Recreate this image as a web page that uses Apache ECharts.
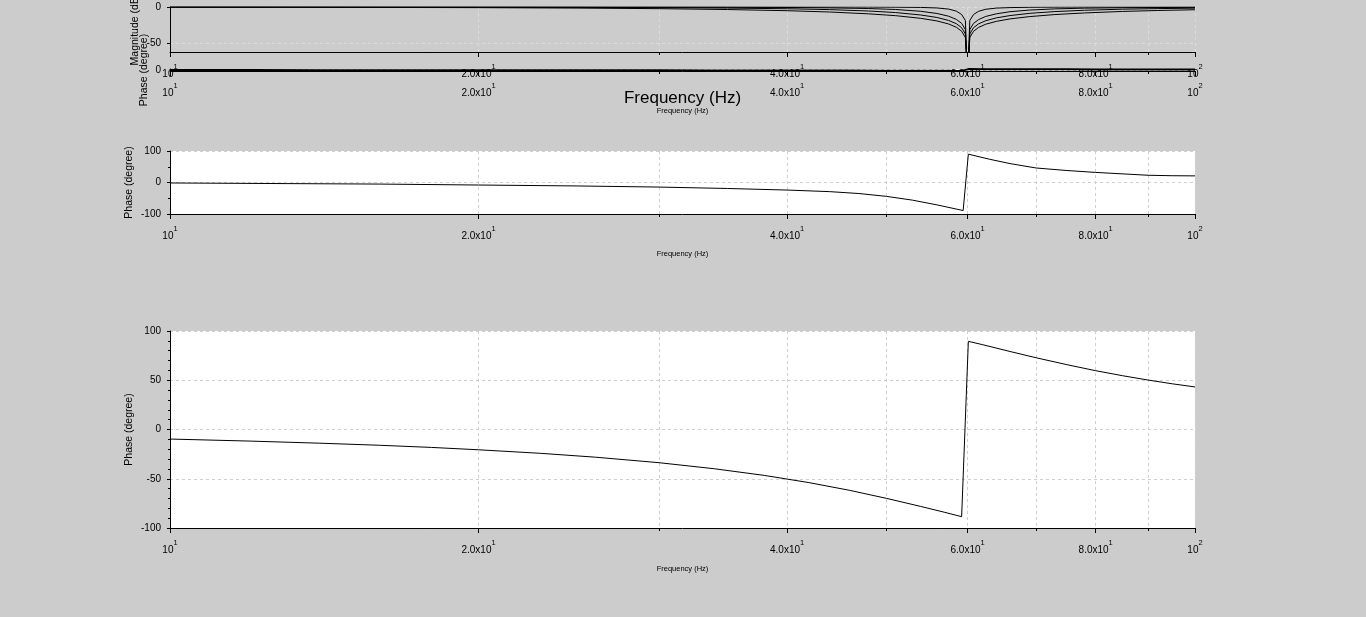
<!DOCTYPE html>
<html>
<head>
<meta charset="utf-8">
<script src="https://cdn.jsdelivr.net/npm/echarts@6/dist/echarts.min.js"></script>
<style>
html,body{margin:0;padding:0;background:#cccccc;}
#chart{width:1366px;height:617px;}
</style>
</head>
<body>
<div id="chart"></div>
<script>
// ---------- DATA ----------
// x tick labels (log frequency axis)
const xTickValues = [10, 20, 40, 60, 80, 100];
const xTickMantissa = ['10', '2.0x10', '4.0x10', '6.0x10', '8.0x10', '10'];
const xTickExponent = ['1', '1', '1', '1', '1', '2'];
const xMinorTicks = [30, 50, 70, 90];

// Magnitude (dB) curves
const freqMag = [10, 15, 20, 25, 30, 35, 40, 44, 48, 51, 54, 56, 57.5, 58.5, 59.2, 59.7, 60, 60.3, 60.8, 61.5, 62.5, 64, 66, 69, 73, 78, 85, 92, 100];
const magA = [-0.2, -0.5, -0.9, -1.5, -2.3, -3.5, -5.1, -6.9, -9.4, -11.9, -15.6, -19.2, -23.4, -27.9, -33.4, -41.9, -100, -42.0, -33.5, -28.1, -23.7, -19.8, -16.4, -13.2, -10.4, -8.2, -6.1, -4.8, -3.8];
const magB = [-0.1, -0.2, -0.3, -0.5, -0.9, -1.5, -2.4, -3.6, -5.5, -7.6, -11.0, -14.4, -18.5, -23.0, -28.5, -37.1, -100, -37.1, -28.6, -23.2, -18.9, -15.0, -11.8, -8.7, -6.3, -4.5, -3.0, -2.2, -1.6];
const magC = [0.0, 0.0, -0.1, -0.1, -0.2, -0.4, -0.7, -1.2, -2.1, -3.4, -5.9, -8.9, -12.7, -17.1, -22.5, -31.0, -100, -31.1, -22.6, -17.3, -13.0, -9.4, -6.5, -4.2, -2.6, -1.6, -1.0, -0.7, -0.5];
const magD = [0.0, 0.0, 0.0, 0.0, 0.0, 0.0, 0.0, -0.1, -0.1, -0.3, -0.6, -1.3, -2.9, -5.7, -10.3, -18.5, -100, -18.5, -10.4, -5.9, -3.1, -1.5, -0.8, -0.4, -0.2, -0.1, -0.1, 0.0, 0.0];

// Phase (degree), middle panel
const freqPhaseMid = [10, 13, 16, 20, 25, 30, 35, 40, 44, 47, 50, 53, 56, 59.4, 60.1, 63, 66, 70, 75, 80, 90, 95, 100];
const phaseMid = [-1.5, -3.5, -5, -8, -11, -14.5, -19, -24, -29, -35, -44, -56, -71, -89, 90, 74, 60, 46, 38, 32, 23, 21.5, 21];

// Phase (degree), bottom panel (also drawn squashed in the second panel)
const freqPhaseLow = [10, 12, 14, 16, 18, 20, 23, 26, 30, 34, 38, 42, 46, 50, 54, 57, 59.2, 60.1, 62, 66, 70, 75, 80, 85, 90, 95, 100];
const phaseLow = [-9.7, -11.8, -13.9, -16.0, -18.2, -20.6, -24.2, -28.1, -33.7, -39.9, -46.6, -53.9, -61.7, -69.9, -78.1, -84.1, -88.5, 89.5, 86.2, 79.2, 72.8, 65.8, 59.7, 54.6, 50.2, 46.4, 43.2];

// ---------- CHART ----------
function pairs(xs, ys) { return xs.map((x, i) => [x, ys[i]]); }
const FONT = '"Liberation Sans", Arial, Helvetica, sans-serif';

function xLabelFormatter(v) {
  let idx = 0;
  for (let i = 0; i < xTickValues.length; i++) {
    if (Math.abs(xTickValues[i] - v) < 1e-6 * xTickValues[i]) { idx = i; }
  }
  return '{b|' + xTickMantissa[idx] + '}{s|' + xTickExponent[idx] + '}';
}
const richX = {
  b: { fontSize: 10, fontFamily: FONT, color: '#000', verticalAlign: 'middle', lineHeight: 14 },
  s: { fontSize: 7.5, fontFamily: FONT, color: '#000', verticalAlign: 'middle', lineHeight: 9, padding: [0, 0, 14, 0] }
};

const grids = [
  { left: 170, width: 1025, top: 7, height: 45, show: false },
  { left: 170, width: 1025, top: 69, height: 2, show: false },
  { left: 170, width: 1025, top: 151, height: 63, show: true, backgroundColor: '#ffffff', borderWidth: 0 },
  { left: 170, width: 1025, top: 331, height: 197, show: true, backgroundColor: '#ffffff', borderWidth: 0 }
].map(g => Object.assign({ containLabel: false, outerBoundsMode: 'none' }, g));

const xNames = [
  { text: 'Frequency (Hz)', size: 17, gap: 38 },
  { text: 'Frequency (Hz)', size: 7.5, gap: 36 },
  { text: 'Frequency (Hz)', size: 7.5, gap: 36 },
  { text: 'Frequency (Hz)', size: 7.5, gap: 37 }
];
const xGridColor = ['#dcdcdc', 'rgba(0,0,0,0)', '#cfcfcf', '#cfcfcf'];

const xAxes = [];
for (let i = 0; i < 4; i++) {
  xAxes.push({
    type: 'log', logBase: 10, gridIndex: i, min: 10, max: 100, position: 'bottom',
    axisLine: { show: true, onZero: false, lineStyle: { color: '#000', width: 1 } },
    axisTick: { show: true, inside: false, length: 5, customValues: xTickValues, lineStyle: { color: '#000' } },
    axisLabel: { show: true, customValues: xTickValues, formatter: xLabelFormatter, rich: richX, margin: 15, color: '#000', hideOverlap: false },
    splitLine: { show: true, lineStyle: { color: xGridColor[i], type: [3, 3], width: 1 } },
    minorTick: { show: false }, minorSplitLine: { show: false },
    name: xNames[i].text, nameLocation: 'middle', nameGap: xNames[i].gap, nameMoveOverlap: false,
    nameTextStyle: { fontSize: xNames[i].size, fontFamily: FONT, color: '#000' }
  });
  xAxes.push({
    type: 'log', logBase: 10, gridIndex: i, min: 10, max: 100, position: 'bottom',
    axisLine: { show: false, onZero: false },
    axisTick: { show: true, inside: false, length: 3, customValues: xMinorTicks, lineStyle: { color: '#000' } },
    axisLabel: { show: false },
    splitLine: { show: true, lineStyle: { color: xGridColor[i], type: [3, 3], width: 1 } },
    minorTick: { show: false }, minorSplitLine: { show: false }
  });
}

const yLabelStyle = { fontSize: 10, fontFamily: FONT, color: '#000', margin: 9 };
const yNameStyle = { fontSize: 10.5, fontFamily: FONT, color: '#000' };
const yAxes = [
  {
    type: 'value', gridIndex: 0, min: -62, max: 0,
    axisLine: { show: true, onZero: false, lineStyle: { color: '#000' } },
    axisTick: { show: true, length: 3, customValues: [-50, 0], lineStyle: { color: '#000' } },
    axisLabel: Object.assign({ customValues: [-50, 0] }, yLabelStyle),
    splitLine: { show: true, lineStyle: { color: '#dcdcdc', type: [3, 3] } },
    name: 'Magnitude (dB)', nameLocation: 'middle', nameRotate: 90, nameGap: 29, nameMoveOverlap: false, nameTextStyle: yNameStyle
  },
  {
    type: 'value', gridIndex: 1, min: -100, max: 100,
    axisLine: { show: true, onZero: false, lineStyle: { color: '#000' } },
    axisTick: { show: false },
    axisLabel: Object.assign({ customValues: [0] }, yLabelStyle),
    splitLine: { show: true, lineStyle: { color: '#ffffff', type: [3, 3] } },
    name: 'Phase (degree)', nameLocation: 'middle', nameRotate: 90, nameGap: 20, nameMoveOverlap: false, nameTextStyle: yNameStyle
  },
  {
    type: 'value', gridIndex: 2, min: -100, max: 100, interval: 100,
    axisLine: { show: true, onZero: false, lineStyle: { color: '#000' } },
    axisTick: { show: true, length: 3, lineStyle: { color: '#000' } },
    minorTick: { show: true, splitNumber: 2, length: 2, lineStyle: { color: '#000' } },
    axisLabel: yLabelStyle,
    splitLine: { show: true, lineStyle: { color: '#cfcfcf', type: [3, 3] } },
    name: 'Phase (degree)', nameLocation: 'middle', nameRotate: 90, nameGap: 35, nameMoveOverlap: false, nameTextStyle: yNameStyle
  },
  {
    type: 'value', gridIndex: 3, min: -100, max: 100, interval: 50,
    axisLine: { show: true, onZero: false, lineStyle: { color: '#000' } },
    axisTick: { show: true, length: 3, lineStyle: { color: '#000' } },
    minorTick: { show: true, splitNumber: 5, length: 2, lineStyle: { color: '#000' } },
    axisLabel: yLabelStyle,
    splitLine: { show: true, lineStyle: { color: '#cfcfcf', type: [3, 3] } },
    name: 'Phase (degree)', nameLocation: 'middle', nameRotate: 90, nameGap: 35, nameMoveOverlap: false, nameTextStyle: yNameStyle
  }
];

function lineSeries(data, xi, yi, w) {
  return {
    type: 'line', data: data, xAxisIndex: xi, yAxisIndex: yi,
    showSymbol: false, symbol: 'none', clip: true, silent: true,
    lineStyle: { color: '#000', width: w || 1 }, emphasis: { disabled: true }
  };
}

const series = [
  lineSeries(pairs(freqMag, magA), 0, 0),
  lineSeries(pairs(freqMag, magB), 0, 0),
  lineSeries(pairs(freqMag, magC), 0, 0),
  lineSeries(pairs(freqMag, magD), 0, 0),
  lineSeries(pairs(freqPhaseLow, phaseLow), 2, 1, 2),
  lineSeries(pairs(freqPhaseMid, phaseMid), 4, 2),
  lineSeries(pairs(freqPhaseLow, phaseLow), 6, 3)
];

const chart = echarts.init(document.getElementById('chart'), null, { renderer: 'canvas' });
chart.setOption({
  backgroundColor: '#cccccc',
  animation: false,
  textStyle: { fontFamily: FONT },
  grid: grids,
  xAxis: xAxes,
  yAxis: yAxes,
  series: series
});
</script>
</body>
</html>
